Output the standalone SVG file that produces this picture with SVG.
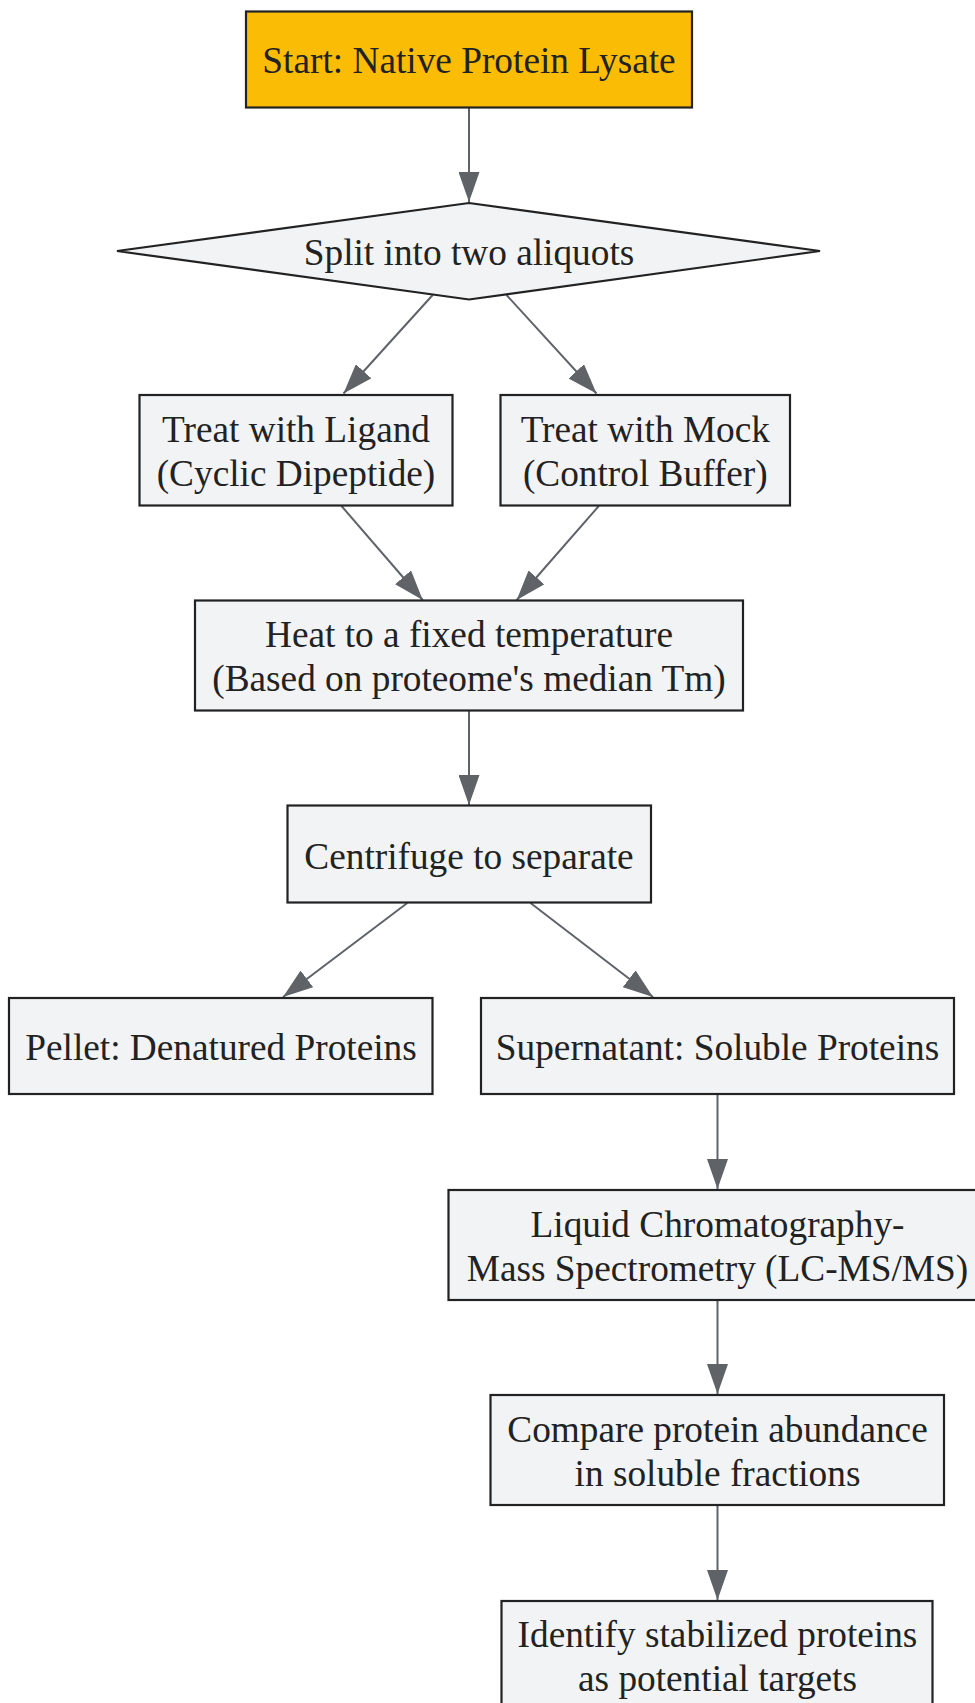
<svg xmlns="http://www.w3.org/2000/svg" width="975" height="1703" viewBox="0 0 975 1703">
<style>
.node rect, .node polygon { fill: #f1f3f5; stroke: #222222; stroke-width: 2.2; }
.node.start rect { fill: #fbbc05; }
.node text { font-family: "Liberation Serif", "Times New Roman", serif; font-size: 37.3px; fill: #222222; text-anchor: middle; }
.edges line { stroke: #5f6368; stroke-width: 2; fill: none; marker-end: url(#arrow); }
</style>
<defs>
<marker id="arrow" viewBox="0 0 30 21" refX="30" refY="10.5" markerWidth="30" markerHeight="21" markerUnits="userSpaceOnUse" orient="auto">
<path d="M0,0 L30,10.5 L0,21 Z" fill="#5f6368"/>
</marker>
</defs>
<rect x="0" y="0" width="975" height="1703" fill="#ffffff"/>
<g class="edges">
<line x1="469" y1="108" x2="469" y2="202"/>
<line x1="432.7" y1="295" x2="343.5" y2="393.5"/>
<line x1="506.5" y1="295" x2="596.5" y2="393.5"/>
<line x1="341.5" y1="506" x2="422.7" y2="600"/>
<line x1="598.8" y1="506" x2="516.7" y2="600"/>
<line x1="469" y1="711" x2="469" y2="805"/>
<line x1="407.3" y1="903" x2="283" y2="997"/>
<line x1="530.5" y1="903" x2="653" y2="997"/>
<line x1="717.5" y1="1094" x2="717.5" y2="1189"/>
<line x1="717.5" y1="1300" x2="717.5" y2="1394"/>
<line x1="717.5" y1="1505" x2="717.5" y2="1600"/>
</g>
<g id="start" class="node start">
<rect x="246" y="11.5" width="446" height="96"/>
<text x="469" y="73">Start: Native Protein Lysate</text>
</g>
<g id="split" class="node">
<polygon points="469,203 820,251 469,299.5 117,251"/>
<text x="469" y="265">Split into two aliquots</text>
</g>
<g id="ligand" class="node">
<rect x="139.5" y="395" width="313" height="110.5"/>
<text x="296" y="442">Treat with Ligand</text>
<text x="296" y="486">(Cyclic Dipeptide)</text>
</g>
<g id="mock" class="node">
<rect x="500.5" y="395" width="289.5" height="110.5"/>
<text x="645.3" y="442">Treat with Mock</text>
<text x="645.3" y="486">(Control Buffer)</text>
</g>
<g id="heat" class="node">
<rect x="195" y="600.5" width="548" height="110"/>
<text x="469" y="647">Heat to a fixed temperature</text>
<text x="469" y="690.5">(Based on proteome's median Tm)</text>
</g>
<g id="centrifuge" class="node">
<rect x="287.5" y="805.5" width="363.5" height="97"/>
<text x="469" y="868.5">Centrifuge to separate</text>
</g>
<g id="pellet" class="node">
<rect x="9" y="998" width="423.5" height="96"/>
<text x="221" y="1060">Pellet: Denatured Proteins</text>
</g>
<g id="supernatant" class="node">
<rect x="481" y="998" width="473" height="96"/>
<text x="717.5" y="1060">Supernatant: Soluble Proteins</text>
</g>
<g id="lcms" class="node">
<rect x="448.5" y="1190" width="538" height="110"/>
<text x="717.5" y="1237">Liquid Chromatography-</text>
<text x="717.5" y="1280.5">Mass Spectrometry (LC-MS/MS)</text>
</g>
<g id="compare" class="node">
<rect x="490.5" y="1395" width="453.5" height="110"/>
<text x="717.5" y="1442">Compare protein abundance</text>
<text x="717.5" y="1485.5">in soluble fractions</text>
</g>
<g id="identify" class="node">
<rect x="501.5" y="1601" width="431" height="110"/>
<text x="717.5" y="1647">Identify stabilized proteins</text>
<text x="717.5" y="1690.5">as potential targets</text>
</g>
</svg>
